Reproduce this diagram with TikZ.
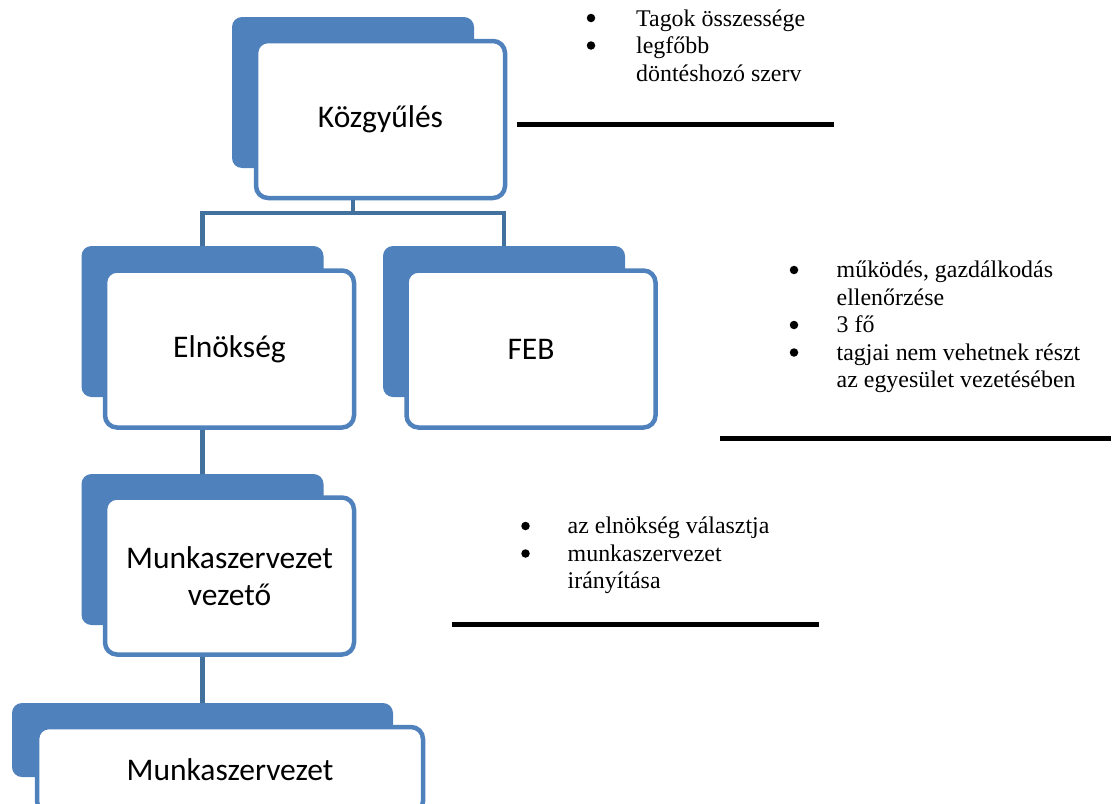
\documentclass[tikz,border=0pt]{standalone}
\usepackage{fontspec}
\setmainfont{Liberation Serif}
\newfontfamily\boxfont{Carlito}
\usetikzlibrary{calc}
\definecolor{accent}{HTML}{4F81BD}
\definecolor{linkc}{HTML}{41719C}
\begin{document}
\begin{tikzpicture}[x=1pt,y=-1pt,
  back/.style={fill=accent, rounded corners=10pt, inner sep=0pt, minimum width=242pt, minimum height=151pt},
  front/.style={draw=accent, line width=4.5pt, fill=white, rounded corners=12pt, minimum width=249pt, minimum height=157pt, inner sep=0pt, align=center, font=\boxfont\fontsize{31.5}{37}\selectfont},
  conn/.style={draw=linkc, line width=4.8pt},
  txt/.style={anchor=base west, inner sep=0pt, font=\fontsize{23.9}{27.5}\selectfont},
  bul/.style={circle, fill=black, inner sep=0pt, minimum size=8.5pt},
  rule/.style={draw=black, line width=5pt}]
\useasboundingbox (0,0) rectangle (1115,803);
\clip (0,0) rectangle (1115,803);
\fill[white] (0,0) rectangle (1115,803);
% boxes
\node[back] (kb) at (353,92.5) {};
\node[front] (k) at (380.5,119.5) {Közgyűlés};
\node[back] (eb) at (202.5,321.5) {};
\node[front] (e) at (229.5,349) {Elnökség};
\node[back] (fb) at (504,321.5) {};
\node[front] (f) at (531,349) {FEB};
\node[back] (mvb) at (202.5,549.5) {};
\node[front] (mv) at (229.5,576) {Munkaszervezet\\vezető};
\node[back, minimum width=381pt, minimum height=74pt] (mb) at (202.5,740) {};
\node[front, minimum width=386pt, minimum height=86pt] (m) at (230,770) {Munkaszervezet};
% connectors
\coordinate (bar) at (353,213);
\draw[conn] (k.south -| kb.center) -- (bar);
\draw[conn] (eb.north) -- (eb.north |- bar) -- (fb.north |- bar) -- (fb.north);
\draw[conn] (e.south -| eb.center) -- (mvb.north);
\draw[conn] (mv.south -| mvb.center) -- (mb.north);
% note 1
\node[bul] (b11) at (591,18) {};
\node[bul] (b12) at (591,45.5) {};
\node[txt] (t11) at (636,26) {Tagok összessége};
\node[txt] (t12) at (636,53.5) {legfőbb};
\node[txt] (t13) at (636,81) {döntéshozó szerv};
\draw[rule] (517,124) -- (834,124);
% note 2
\node[bul] (b21) at (794,270) {};
\node[bul] (b22) at (794,325) {};
\node[bul] (b23) at (794,352.5) {};
\node[txt] (t21) at (836.5,277.5) {működés, gazdálkodás};
\node[txt] (t22) at (836.5,305) {ellenőrzése};
\node[txt] (t23) at (836.5,332.5) {3 fő};
\node[txt] (t24) at (836.5,360) {tagjai nem vehetnek részt};
\node[txt] (t25) at (836.5,387.5) {az egyesület vezetésében};
\draw[rule] (720,438) -- (1111,438);
% note 3
\node[bul] (b31) at (525.5,526) {};
\node[bul] (b32) at (525.5,553.5) {};
\node[txt] (t31) at (567.5,533.5) {az elnökség választja};
\node[txt] (t32) at (567.5,561) {munkaszervezet};
\node[txt] (t33) at (567.5,588.5) {irányítása};
\draw[rule] (452,624.5) -- (819,624.5);
\end{tikzpicture}
\end{document}
